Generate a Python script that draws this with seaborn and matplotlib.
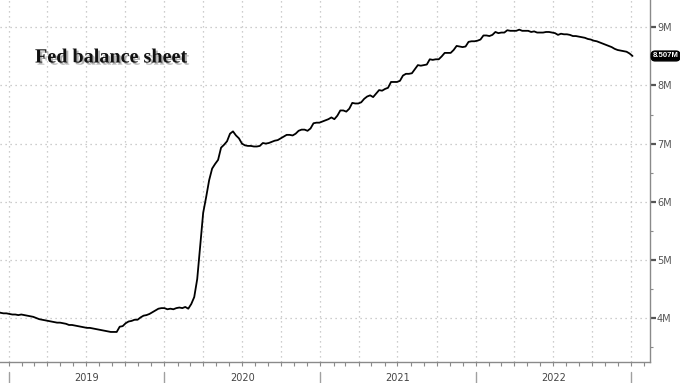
import numpy as np
import pandas as pd
import matplotlib
matplotlib.use("Agg")
import matplotlib.pyplot as plt
import matplotlib.dates as mdates
import matplotlib.patheffects as pe
import matplotlib.transforms as mtrans
import seaborn as sns

sns.set_theme(style="white")
plt.rcParams["font.family"] = ["DejaVu Sans"]

# Weekly (Wednesday) Fed balance sheet values, trillions shown as "M"
v2018 = [4.11, 4.09, 4.08, 4.08]
v2019 = [4.07, 4.06, 4.06, 4.05, 4.06,
         4.05, 4.04, 4.03, 4.02,
         4.00, 3.98, 3.97, 3.96,
         3.95, 3.94, 3.93, 3.92,
         3.92, 3.91, 3.90, 3.88, 3.88,
         3.87, 3.86, 3.85, 3.84,
         3.83, 3.83, 3.82, 3.81, 3.80,
         3.79, 3.78, 3.77, 3.76,
         3.76, 3.76, 3.85, 3.86,
         3.91, 3.94, 3.95, 3.97, 3.97,
         4.01, 4.04, 4.05, 4.07,
         4.10, 4.13, 4.16, 4.17]
v2020 = [4.17, 4.15, 4.16, 4.15, 4.17,
         4.18, 4.17, 4.19, 4.16,
         4.24, 4.36, 4.67, 5.25,
         5.81, 6.08, 6.37, 6.57, 6.65,
         6.72, 6.93, 6.98, 7.04,
         7.17, 7.21, 7.14, 7.09,
         7.00, 6.97, 6.96, 6.96, 6.95,
         6.95, 6.96, 7.01, 7.00,
         7.01, 7.03, 7.05, 7.06, 7.09,
         7.12, 7.15, 7.15, 7.14,
         7.17, 7.22, 7.24, 7.24,
         7.22, 7.26, 7.35, 7.36, 7.36]
v2021 = [7.38, 7.40, 7.42, 7.45,
         7.42, 7.48, 7.57, 7.57,
         7.55, 7.60, 7.70, 7.69, 7.69,
         7.71, 7.77, 7.81, 7.83,
         7.80, 7.86, 7.92, 7.91,
         7.94, 7.96, 8.06, 8.06, 8.06,
         8.08, 8.17, 8.20, 8.20,
         8.21, 8.28, 8.35, 8.34,
         8.35, 8.36, 8.45, 8.44, 8.45,
         8.45, 8.50, 8.56, 8.56,
         8.56, 8.61, 8.68, 8.67,
         8.66, 8.67, 8.75, 8.76, 8.76]
v2022 = [8.77, 8.79, 8.86, 8.86,
         8.85, 8.87, 8.92, 8.90,
         8.91, 8.91, 8.95, 8.94, 8.94,
         8.94, 8.96, 8.94, 8.94,
         8.94, 8.92, 8.93, 8.91,
         8.91, 8.91, 8.92, 8.92, 8.91,
         8.90, 8.87, 8.89, 8.88,
         8.88, 8.87, 8.85, 8.85, 8.84,
         8.83, 8.82, 8.80, 8.79,
         8.77, 8.76, 8.74, 8.72,
         8.70, 8.68, 8.66, 8.63, 8.61,
         8.60, 8.59, 8.58, 8.55]
v2023 = [8.507]

first_wed = {2018: "2018-12-05", 2019: "2019-01-02", 2020: "2020-01-01",
             2021: "2021-01-06", 2022: "2022-01-05", 2023: "2023-01-04"}
series = {2018: v2018, 2019: v2019, 2020: v2020, 2021: v2021, 2022: v2022, 2023: v2023}

frames = []
for yr, vals in series.items():
    d = pd.date_range(first_wed[yr], periods=len(vals), freq="W-WED")
    frames.append(pd.DataFrame({"date": d, "value": vals}))
df = pd.concat(frames, ignore_index=True)

year_labels = ["2019", "2020", "2021", "2022"]
ytick_vals = [4, 5, 6, 7, 8, 9]
ytick_labels = ["4M", "5M", "6M", "7M", "8M", "9M"]
last_label = "8.507M"
title = "Fed balance sheet"

W, H = 680, 383
fig = plt.figure(figsize=(W / 100, H / 100), dpi=100)
fig.patch.set_facecolor("white")
ax_h = 362
ax = fig.add_axes([0, (H - ax_h) / H, 650 / W, ax_h / H])
ax.set_facecolor("white")

sns.lineplot(data=df, x="date", y="value", ax=ax, color="black", linewidth=1.3)

ax.set_xlim(pd.Timestamp("2018-12-11"), pd.Timestamp("2023-02-14"))
ax.set_ylim(3.243, 9.47)
ax.set_xlabel("")
ax.set_ylabel("")

# spines
for s in ["left", "top"]:
    ax.spines[s].set_visible(False)
for s in ["bottom", "right"]:
    ax.spines[s].set_visible(True)
    ax.spines[s].set_color("#8a8a8a")
    ax.spines[s].set_linewidth(1.0)

# x ticks: quarterly grid, monthly small ticks
ax.xaxis.set_major_locator(mdates.MonthLocator(bymonth=[1, 4, 7, 10]))
ax.xaxis.set_minor_locator(mdates.MonthLocator())
ax.xaxis.set_major_formatter(plt.NullFormatter())
ax.tick_params(axis="x", which="both", direction="out", length=3, width=0.8,
               color="#8a8a8a", bottom=True)

# y ticks on the right
ax.yaxis.tick_right()
ax.set_yticks(ytick_vals)
ax.set_yticklabels(ytick_labels)
ax.set_yticks([3.5, 4.5, 5.5, 6.5, 7.5, 8.5], minor=True)
ax.tick_params(axis="y", which="major", direction="out", length=4, width=1.6,
               color="#555555", labelsize=7, labelcolor="#555555", pad=1, right=True)
ax.tick_params(axis="y", which="minor", direction="out", length=2.5, width=0.8,
               color="#8a8a8a", right=True)

ax.grid(True, which="major", axis="both", color="#bdbdbd",
        linestyle=(0, (1, 3)), linewidth=0.9)

# year separators and labels
xt = ax.get_xaxis_transform()
for yr in range(2019, 2024):
    d = mdates.date2num(pd.Timestamp(f"{yr}-01-01"))
    ax.plot([d, d], [-10 / ax_h, -21 / ax_h], transform=xt, color="#a0a0a0",
            linewidth=1.0, clip_on=False)
for lab in year_labels:
    mid = mdates.date2num(pd.Timestamp(f"{lab}-07-02"))
    ax.text(mid, -16 / ax_h, lab, transform=xt, ha="center", va="center",
            fontsize=7, color="#444444")

# last value tag (box kept inside the figure, with a left-pointing tip)
last_val = df["value"].iloc[-1]
yt = ax.get_yaxis_transform()
ax.annotate(last_label, xy=(678.5 / W, last_val),
            xycoords=("figure fraction", "data"),
            ha="right", va="center",
            fontsize=5.6, color="white", fontweight="bold",
            family="Liberation Sans",
            bbox=dict(boxstyle="round,pad=0.18,rounding_size=0.5", fc="black", ec="black"),
            annotation_clip=False)
ax.plot([1 + 4.5 / 650], [last_val], transform=yt, marker="<", markersize=5,
        color="black", clip_on=False, linestyle="none")

# title
ax.text(35 / 650, 1 - 57.5 / ax_h, title, transform=ax.transAxes,
        fontsize=14.5, fontweight="bold", family="Liberation Serif",
        ha="left", va="center", color="#111111",
        path_effects=[pe.SimplePatchShadow(offset=(1.5, -1.5),
                                           shadow_rgbFace="#666666", alpha=0.5),
                      pe.Normal()])

fig.savefig("out.png", dpi=100)
